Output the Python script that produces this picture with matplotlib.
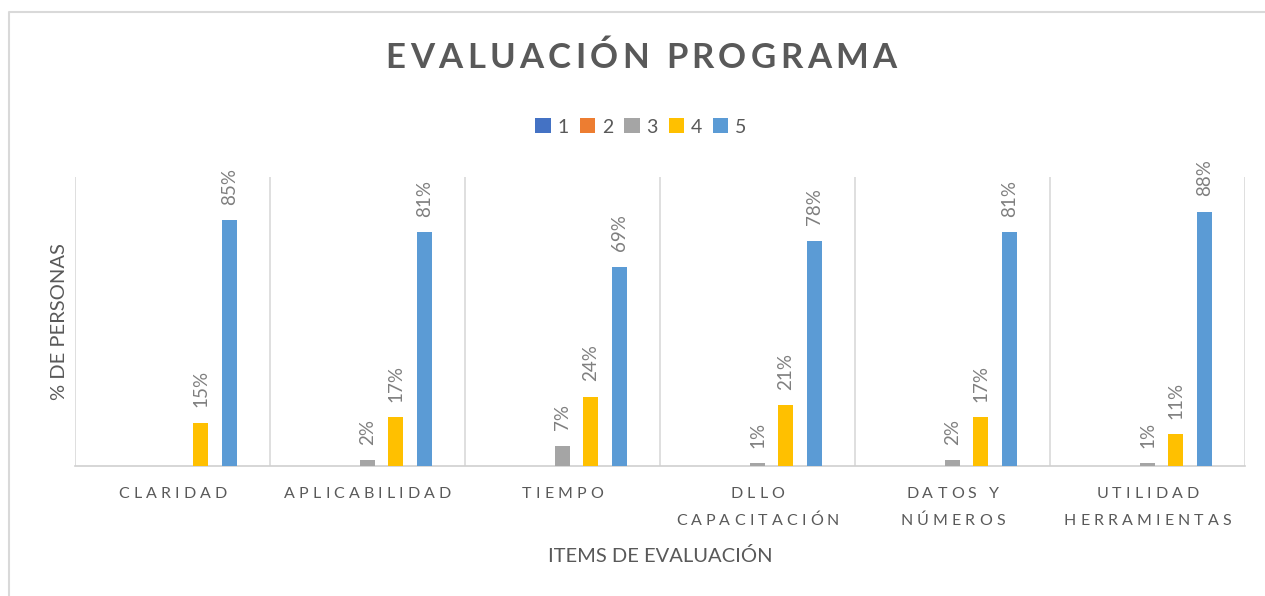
import matplotlib
matplotlib.use("Agg")
import matplotlib.pyplot as plt
import numpy as np
from matplotlib.lines import Line2D
from matplotlib.patches import Patch

plt.rcParams['font.family'] = ['Lato', 'DejaVu Sans']

# data
categorias = [["CLARIDAD"], ["APLICABILIDAD"], ["TIEMPO"],
              ["DLLO", "CAPACITACIÓN"], ["DATOS Y", "NÚMEROS"],
              ["UTILIDAD", "HERRAMIENTAS"]]
series = ["1", "2", "3", "4", "5"]
s1 = [0, 0, 0, 0, 0, 0]
s2 = [0, 0, 0, 0, 0, 0]
s3 = [0, 0.02, 0.07, 0.01, 0.02, 0.01]
s4 = [0.15, 0.17, 0.24, 0.21, 0.17, 0.11]
s5 = [0.85, 0.81, 0.69, 0.78, 0.81, 0.88]
valores = [s1, s2, s3, s4, s5]
colores = ["#4472C4", "#ED7D31", "#A5A5A5", "#FFC000", "#5B9BD5"]

W, H = 1265, 596
fig = plt.figure(figsize=(W / 100, H / 100), dpi=100)
ax = fig.add_axes([75 / W, (H - 466) / H, 1170 / W, 289 / H])

x = np.arange(len(categorias))
paso = 0.146
ancho = 0.077
for i, (vals, col) in enumerate(zip(valores, colores)):
    pos = x + (i - 2) * paso
    ax.bar(pos, vals, width=ancho, color=col, zorder=3)
    for p, v in zip(pos, vals):
        if v > 0:
            ax.annotate("%d%%" % round(v * 100), (p, v), xytext=(0, 11),
                        textcoords="offset points", rotation=90,
                        ha="center", va="bottom", fontsize=13.5,
                        color="#7f7f7f")

ax.set_xlim(-0.5, len(categorias) - 0.5)
ax.set_ylim(0, 1.0)
for b in np.arange(-0.5, len(categorias), 1.0):
    ax.axvline(b, color="#d9d9d9", lw=1.2, zorder=1)
for s in ["top", "right", "left"]:
    ax.spines[s].set_visible(False)
ax.spines["bottom"].set_color("#d0d0d0")
ax.spines["bottom"].set_linewidth(1.2)
ax.set_xticks([])
ax.set_yticks([])

renderer = fig.canvas.get_renderer()


def texto_espaciado(s, cx, cy, size, espacio, weight="normal", color="#595959"):
    "Draw text with letter spacing, centred at (cx, cy) in pixels"
    prop = matplotlib.font_manager.FontProperties(family=['Lato', 'DejaVu Sans'],
                                                  size=size, weight=weight)
    anchos = []
    for ch in s:
        if ch == " ":
            w = renderer.get_text_width_height_descent("a a", prop, ismath=False)[0] - \
                renderer.get_text_width_height_descent("aa", prop, ismath=False)[0]
        else:
            w = renderer.get_text_width_height_descent(ch, prop, ismath=False)[0]
        anchos.append(w)
    total = sum(anchos) + espacio * (len(s) - 1)
    xi = cx - total / 2
    for ch, w in zip(s, anchos):
        fig.text(xi / W, 1 - cy / H, ch, fontproperties=prop, color=color,
                 ha="left", va="center")
        xi += w + espacio


# title
texto_espaciado("EVALUACIÓN PROGRAMA", 641, 58, 25, 4.3, weight="bold")

# category labels
for i, lineas in enumerate(categorias):
    cx = 75 + 195 * (i + 0.5)
    for j, linea in enumerate(lineas):
        texto_espaciado(linea, cx, 494 + 27 * j, 11.5, 4.1, color="#595959")

# axis titles
fig.text(660 / W, 1 - 556 / H, "ITEMS DE EVALUACIÓN", ha="center", va="center",
         fontsize=14.5, color="#595959")
fig.text(60 / W, 1 - 322 / H, "% DE PERSONAS", ha="center", va="center",
         rotation=90, fontsize=14.5, color="#595959")

# legend
handles = [Patch(facecolor=c, edgecolor="none") for c in colores]
fig.legend(handles, series, loc="center", bbox_to_anchor=(641 / W, 1 - 127 / H),
           ncol=5, frameon=False, fontsize=14, handlelength=0.8,
           handleheight=0.8, handletextpad=0.35, columnspacing=0.55,
           labelcolor="#595959")

# outer border (top and left only visible)
fig.add_artist(Line2D([9 / W, 9 / W, 1], [0, 1 - 12 / H, 1 - 12 / H],
                      transform=fig.transFigure, color="#d9d9d9", lw=1.5))

fig.savefig("out.png", dpi=100)
